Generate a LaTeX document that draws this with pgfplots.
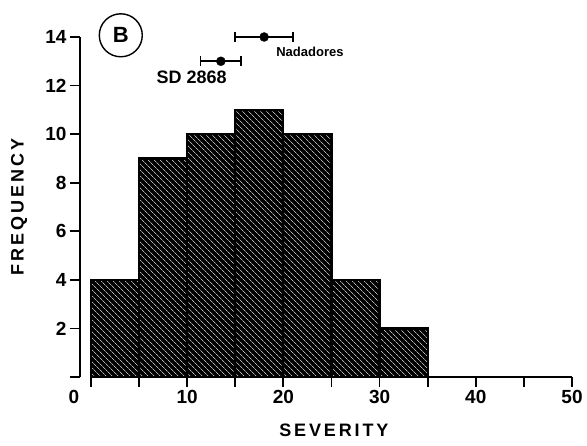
\documentclass[border=0pt]{standalone}
\usepackage{fontspec}
\setmainfont{Liberation Sans}
\usepackage{pgfplots}
\pgfplotsset{compat=1.18}
\usetikzlibrary{patterns.meta}
\begin{document}
\begin{tikzpicture}
\begin{axis}[
  scale only axis, width=492pt, height=340pt,
  xmin=-1.14, xmax=50, ymin=0, ymax=14,
  axis lines*=left,
  x axis line style={draw=none},
  y axis line style={line width=1.8pt},
  xtick={0,10,...,50}, xticklabels={,10,20,30,40,50},
  minor xtick={5,15,...,45},
  ytick={0,2,...,14}, yticklabels={,2,4,6,8,10,12,14},
  tick align=outside,
  major tick length=10pt, minor tick length=10pt,
  tick style={line width=1.8pt, black},
  every minor tick/.style={line width=1.8pt, black},
  ticklabel style={font=\bfseries\fontsize{19}{19}\selectfont},
  xlabel={SEVERITY}, ylabel={FREQUENCY},
  label style={font=\bfseries\addfontfeatures{LetterSpace=16}\fontsize{18}{18}\selectfont},
  xlabel style={at={(axis description cs:0.516,-0.156)}, anchor=center},
  ylabel style={at={(axis description cs:-0.124,0.5)}, anchor=center},
  clip=false,
]
\addplot[ybar interval, draw=black, line width=2.2pt, fill=black,
  postaction={pattern={Lines[angle=-45,distance=4pt,line width=0.8pt]}, pattern color=white!70!black}]
  coordinates {(0,4)(5,9)(10,10)(15,11)(20,10)(25,4)(30,2)(35,2)};
\draw[line width=1.8pt] (axis cs:0,0) -- (axis cs:50,0);
\addplot[only marks, mark=*, mark size=4.5pt, black,
  error bars/.cd, x dir=both, x explicit, error mark=|,
  error bar style={line width=1.6pt},
  error mark options={mark size=5pt, line width=1.6pt, rotate=0}]
  coordinates {(18,14) +- (3,0) (13.5,13) +- (2.1,0)};
\node[anchor=west, font=\bfseries\fontsize{13}{13}\selectfont] at (axis cs:18.9,13.37) {Nadadores};
\node[anchor=west, font=\bfseries\fontsize{18}{18}\selectfont] at (axis cs:6.45,12.32) {SD 2868};
\node[circle, draw, line width=1.4pt, minimum size=43pt, inner sep=0pt, font=\bfseries\fontsize{22}{22}\selectfont] at (axis cs:3.1,14.07) {B};
\node[font=\bfseries\fontsize{19}{19}\selectfont] at (axis cs:-1.77,0) [yshift=-20pt] {0};
\coordinate (O) at (rel axis cs:0,0);
\coordinate (T) at (rel axis cs:1,1);
\end{axis}
\pgfresetboundingbox
\path ([shift={(-80pt,-69pt)}]O) rectangle ([shift={(15pt,37pt)}]T);
\end{tikzpicture}
\end{document}
